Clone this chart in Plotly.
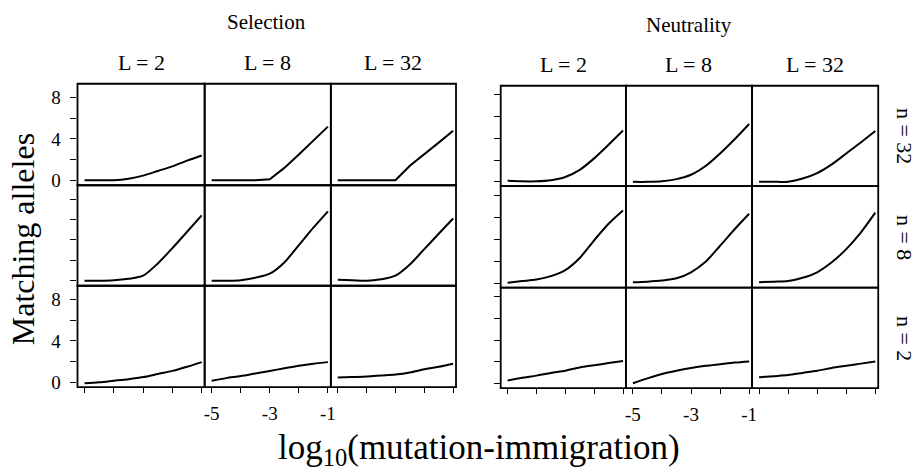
import plotly.graph_objects as go

# ---------------- data ----------------
x_log = [-5, -4.5, -4, -3.5, -3, -2.5, -2, -1.5, -1]
L_labels = ["L = 2", "L = 8", "L = 32"]
n_labels = ["n = 32", "n = 8", "n = 2"]
regimes = ["Selection", "Neutrality"]

# Selection
sel_n32_L2 = [0, 0, 0, 0.15, 0.45, 0.9, 1.35, 1.9, 2.4]
sel_n32_L8 = [0, 0, 0, 0, 0.1, 1.2, 2.5, 3.85, 5.2]
sel_n32_L32 = [0, 0, 0, 0, 0, 1.4, 2.5, 3.65, 4.8]
sel_n8_L2 = [0, 0, 0.05, 0.2, 0.5, 1.7, 3.2, 4.8, 6.4]
sel_n8_L8 = [0, 0, 0.05, 0.3, 0.7, 1.8, 3.5, 5.2, 6.8]
sel_n8_L32 = [0.1, 0.05, 0, 0.15, 0.5, 1.6, 3.1, 4.6, 6.1]
sel_n2_L2 = [-0.1, 0, 0.15, 0.3, 0.5, 0.8, 1.1, 1.5, 1.95]
sel_n2_L8 = [0.15, 0.4, 0.6, 0.85, 1.1, 1.35, 1.6, 1.8, 1.95]
sel_n2_L32 = [0.45, 0.5, 0.55, 0.65, 0.75, 0.95, 1.25, 1.5, 1.8]

# Neutrality
neu_n32_L2 = [0.1, 0.05, 0.05, 0.15, 0.45, 1.1, 2.15, 3.4, 4.7]
neu_n32_L8 = [0, 0, 0.05, 0.25, 0.65, 1.45, 2.6, 3.9, 5.3]
neu_n32_L32 = [0, 0, 0.02, 0.3, 0.8, 1.6, 2.6, 3.6, 4.65]
neu_n8_L2 = [0.05, 0.2, 0.35, 0.65, 1.2, 2.3, 3.9, 5.4, 6.6]
neu_n8_L8 = [0.1, 0.15, 0.25, 0.45, 1.0, 1.95, 3.4, 4.9, 6.3]
neu_n8_L32 = [0.1, 0.15, 0.2, 0.5, 1.0, 1.9, 3.1, 4.6, 6.4]
neu_n2_L2 = [0.3, 0.55, 0.75, 1.0, 1.2, 1.5, 1.7, 1.9, 2.1]
neu_n2_L8 = [0.05, 0.5, 0.9, 1.2, 1.45, 1.65, 1.8, 1.95, 2.05]
neu_n2_L32 = [0.6, 0.7, 0.8, 1.0, 1.2, 1.45, 1.65, 1.85, 2.05]

x_tickvals = [-5, -4, -3, -2, -1]
x_ticktext = ["-5", "", "-3", "", "-1"]
y_tickvals = [0, 2, 4, 6, 8]
y_ticktext = ["0", "", "4", "", "8"]

panels = [
    [[sel_n32_L2, sel_n32_L8, sel_n32_L32],
     [sel_n8_L2, sel_n8_L8, sel_n8_L32],
     [sel_n2_L2, sel_n2_L8, sel_n2_L32]],
    [[neu_n32_L2, neu_n32_L8, neu_n32_L32],
     [neu_n8_L2, neu_n8_L8, neu_n8_L32],
     [neu_n2_L2, neu_n2_L8, neu_n2_L32]],
]
linear_knees = {(0, 0, 1), (0, 0, 2)}

# ---------------- layout geometry ----------------
W, H = 918, 474
FONT = "Liberation Serif"
blocks = [
    dict(cols=[77, 205, 332, 458], rows=[84, 187, 289, 392], yr=[-0.48, 9.35],
         ylabels=[True, False, True], title_y=21, lab_y=62),
    dict(cols=[503, 629, 756, 883], rows=[86, 188, 291, 393], yr=[-0.4, 8.8],
         ylabels=[False, False, False], title_y=24, lab_y=64),
]
xr = [-5.24, -0.9]

fig = go.Figure()
layout = dict(
    width=W, height=H, autosize=False,
    margin=dict(l=0, r=0, t=0, b=0),
    paper_bgcolor="white", plot_bgcolor="white",
    showlegend=False,
    font=dict(family=FONT, color="black"),
)
annotations = []
shapes = []

k = 0
for b, blk in enumerate(blocks):
    cols, rows = blk["cols"], blk["rows"]
    for r in range(3):
        for c in range(3):
            k += 1
            xs = f"x{k}" if k > 1 else "x"
            ys = f"y{k}" if k > 1 else "y"
            xa = dict(
                domain=[cols[c] / W, cols[c + 1] / W], range=xr, anchor=ys,
                showline=False, showgrid=False, zeroline=False,
            )
            if r == 2:
                xa.update(ticks="outside", ticklen=5, tickwidth=1.4, tickcolor="black",
                          tickvals=x_tickvals,
                          ticktext=x_ticktext if c == 1 else [" "] * 5,
                          tickfont=dict(family=FONT, size=19, color="black"),
                          ticklabelstandoff=4)
            else:
                xa.update(ticks="", showticklabels=False)
            ya = dict(
                domain=[1 - rows[r + 1] / H, 1 - rows[r] / H], range=blk["yr"],
                anchor=xs, showline=False, showgrid=False, zeroline=False,
            )
            if c == 0:
                ya.update(ticks="outside", ticklen=6, tickwidth=1.4, tickcolor="black",
                          tickvals=y_tickvals,
                          ticktext=y_ticktext if blk["ylabels"][r] else [" "] * 5,
                          tickfont=dict(family=FONT, size=19, color="black"),
                          ticklabelstandoff=6)
            else:
                ya.update(ticks="", showticklabels=False)
            layout[xs.replace("x", "xaxis")] = xa
            layout[ys.replace("y", "yaxis")] = ya
            fig.add_trace(go.Scatter(
                x=x_log, y=panels[b][r][c], mode="lines",
                line=dict(color="black", width=2,
                          shape="linear" if (b, r, c) in linear_knees else "spline",
                          smoothing=0.8),
                xaxis=xs, yaxis=ys, hoverinfo="skip", cliponaxis=False,
            ))
            # panel frame
            shapes.append(dict(
                type="rect", xref=f"{xs} domain", yref=f"{ys} domain",
                x0=0, x1=1, y0=0, y1=1, line=dict(color="black", width=1.8),
                fillcolor="rgba(0,0,0,0)", layer="above"))
    # block title
    annotations.append(dict(
        text=regimes[b], x=(cols[0] + cols[3]) / 2 / W, y=1 - blk["title_y"] / H,
        xref="paper", yref="paper", showarrow=False, xanchor="center", yanchor="middle",
        font=dict(family=FONT, size=21, color="black")))
    # column labels
    for c in range(3):
        annotations.append(dict(
            text=L_labels[c], x=(cols[c] + cols[c + 1]) / 2 / W, y=1 - blk["lab_y"] / H,
            xref="paper", yref="paper", showarrow=False, xanchor="center", yanchor="middle",
            font=dict(family=FONT, size=22, color="black")))

# row labels on right
rrows = blocks[1]["rows"]
for r in range(3):
    annotations.append(dict(
        text=n_labels[r], x=909 / W, y=1 - (rrows[r] + rrows[r + 1]) / 2 / H,
        xref="paper", yref="paper", showarrow=False, xanchor="center", yanchor="middle",
        textangle=90, font=dict(family=FONT, size=22, color="black")))

# axis titles
annotations.append(dict(
    text="Matching alleles", x=23 / W, y=1 - 242 / H, xref="paper", yref="paper",
    showarrow=False, xanchor="center", yanchor="middle", textangle=-90,
    font=dict(family=FONT, size=32, color="black")))
annotations.append(dict(
    text="log<sub>10</sub>(mutation-immigration)", x=481 / W, y=1 - 455 / H,
    xref="paper", yref="paper", showarrow=False, xanchor="center", yanchor="middle",
    font=dict(family=FONT, size=35, color="black")))

layout["annotations"] = annotations
layout["shapes"] = shapes
fig.update_layout(**layout)
fig.write_html("out.html")
